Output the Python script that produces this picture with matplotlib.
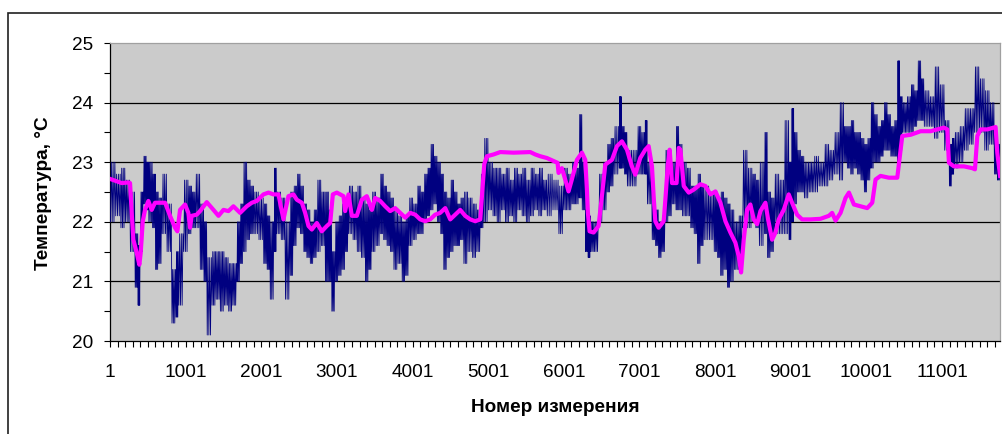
import numpy as np
import matplotlib
matplotlib.use('Agg')
import matplotlib.pyplot as plt
from matplotlib.patches import Rectangle

plt.rcParams['font.family'] = ['Liberation Sans', 'DejaVu Sans']

NAVY = '#000080'
MAGENTA = '#ff00ff'
PLOT_BG = '#cbcbcb'

N_LAST = 11767

# raw sensor: per stretch of measurements, the lowest and highest reading
raw_start = [
    0, 70, 140, 200, 265, 330, 370, 400, 440, 480, 510, 560, 600, 640, 685,
    750, 815, 870, 905, 970, 1035, 1080, 1125, 1190, 1240, 1280, 1345, 1400,
    1455, 1510, 1565, 1620, 1675, 1720, 1760, 1810, 1855, 1900, 1965, 2030,
    2075, 2115, 2170, 2200, 2260, 2315, 2380, 2425, 2470, 2515, 2560, 2600,
    2645, 2690, 2735, 2790, 2845, 2890, 2930, 2975, 3020, 3065, 3110, 3150,
    3210, 3265, 3320, 3375, 3420, 3460, 3515, 3570, 3615, 3660, 3705, 3750,
    3805, 3860, 3905, 3950, 4005, 4060, 4105, 4150, 4195, 4235, 4280, 4325,
    4370, 4410, 4455, 4500, 4545, 4590, 4630, 4675, 4730, 4790, 4845, 4900,
    4940, 5000, 5060, 5115, 5170, 5225, 5280, 5335, 5390, 5445, 5500, 5555,
    5610, 5665, 5720, 5775, 5850, 5930, 5995, 6050, 6105, 6150, 6200, 6240,
    6285, 6320, 6350, 6400, 6460, 6515, 6570, 6615, 6660, 6730, 6760, 6800,
    6835, 6900, 6970, 7020, 7070, 7100, 7165, 7210, 7250, 7295, 7340, 7385,
    7430, 7480, 7520, 7565, 7620, 7675, 7720, 7765, 7810, 7850, 7920, 7985,
    8030, 8070, 8115, 8160, 8200, 8250, 8305, 8360, 8425, 8490, 8535, 8580,
    8650, 8690, 8735, 8780, 8845, 8910, 8975, 9010, 9040, 9085, 9130, 9175,
    9240, 9300, 9370, 9440, 9505, 9570, 9640, 9700, 9745, 9790, 9835, 9880,
    9925, 9970, 10010, 10055, 10100, 10145, 10190, 10230, 10275, 10320,
    10365, 10410, 10440, 10475, 10530, 10585, 10630, 10675, 10720, 10760,
    10830, 10895, 10960, 11030, 11095, 11130, 11160, 11225, 11290, 11360,
    11425, 11490, 11560, 11625, 11690, 11730,
]
raw_lo = [
    22.0, 22.1, 21.9, 22.0, 21.5, 20.9, 20.6, 21.5, 22.3, 22.2, 22.0, 21.9,
    21.2, 21.3, 21.8, 21.5, 20.3, 20.4, 20.6, 21.5, 21.8, 21.9, 21.9, 21.2,
    21.0, 20.1, 20.6, 20.7, 20.5, 20.6, 20.5, 20.6, 21.0, 21.3, 21.5, 21.7,
    21.8, 21.8, 21.7, 21.3, 21.2, 20.7, 21.5, 21.8, 21.7, 20.7, 21.1, 21.6,
    21.9, 21.8, 21.5, 21.4, 21.3, 21.4, 21.5, 21.6, 21.0, 21.0, 20.5, 21.0,
    21.1, 21.2, 21.5, 21.8, 21.7, 21.5, 21.4, 21.0, 21.2, 21.5, 21.6, 21.8,
    21.7, 21.6, 21.5, 21.2, 21.3, 21.0, 21.1, 21.6, 21.7, 21.8, 21.8, 22.0,
    22.1, 22.2, 22.3, 22.0, 21.8, 21.2, 21.4, 21.5, 21.6, 21.6, 21.7, 21.3,
    21.5, 21.4, 21.5, 21.9, 22.0, 22.2, 22.1, 22.0, 22.2, 22.0, 22.1, 22.0,
    22.2, 22.1, 22.0, 22.1, 22.2, 22.1, 22.2, 22.1, 22.2, 21.8, 22.2, 22.2,
    22.3, 22.3, 22.4, 22.2, 21.5, 21.4, 21.5, 21.5, 22.0, 22.2, 22.5, 22.6,
    22.8, 22.9, 22.9, 22.8, 22.6, 22.6, 22.8, 22.8, 22.8, 22.3, 21.7, 21.6,
    21.4, 21.5, 22.0, 22.1, 22.3, 22.2, 22.2, 22.1, 22.1, 21.9, 21.8, 21.3,
    21.6, 21.7, 21.7, 21.5, 21.4, 21.1, 21.2, 20.9, 21.0, 21.2, 21.2, 21.9,
    21.9, 22.0, 21.9, 21.6, 21.8, 21.4, 21.5, 21.8, 21.8, 21.8, 21.7, 22.0,
    22.3, 22.5, 22.5, 22.4, 22.5, 22.5, 22.6, 22.6, 22.7, 22.8, 22.7, 23.0,
    22.9, 22.8, 22.9, 22.8, 22.7, 22.5, 22.7, 22.9, 23.0, 23.0, 23.1, 23.2,
    23.2, 23.1, 23.1, 23.0, 23.2, 23.5, 23.5, 23.5, 23.6, 23.7, 23.7, 23.6,
    23.6, 23.4, 23.5, 23.2, 22.6, 22.8, 22.9, 23.0, 23.2, 23.3, 23.5, 23.5,
    23.2, 23.3, 22.8, 22.7,
]
raw_hi = [
    23.0, 22.8, 22.9, 22.7, 22.5, 21.8, 21.6, 22.5, 23.1, 23.0, 23.0, 22.8,
    22.5, 22.4, 22.8, 22.3, 21.2, 21.5, 21.8, 22.7, 22.6, 22.5, 22.8, 22.3,
    22.0, 21.4, 21.5, 21.5, 21.5, 21.4, 21.3, 21.3, 22.0, 22.3, 23.0, 22.7,
    22.6, 22.5, 22.4, 22.3, 22.1, 22.0, 22.9, 22.5, 22.4, 22.0, 22.5, 22.6,
    22.8, 22.6, 22.3, 22.2, 22.0, 22.2, 22.7, 22.5, 22.5, 22.2, 21.5, 22.0,
    22.1, 22.3, 22.4, 22.6, 22.5, 22.6, 22.4, 22.3, 22.2, 22.5, 22.4, 22.8,
    22.6, 22.5, 22.4, 22.2, 22.1, 22.0, 22.1, 22.4, 22.3, 22.6, 22.5, 22.8,
    22.9, 23.3, 23.1, 23.0, 22.8, 22.5, 22.4, 22.7, 22.5, 22.3, 22.4, 22.5,
    22.4, 22.3, 22.2, 22.8, 23.4, 23.0, 22.9, 22.9, 22.8, 22.9, 22.7, 22.9,
    22.8, 22.9, 22.7, 22.9, 22.8, 22.9, 22.7, 22.8, 22.7, 22.6, 22.9, 22.8,
    23.0, 22.9, 23.8, 23.0, 22.2, 22.1, 22.0, 22.0, 22.8, 23.0, 23.3, 23.4,
    23.6, 24.1, 23.6, 23.5, 23.2, 23.2, 23.6, 23.5, 23.7, 23.0, 22.3, 22.2,
    22.0, 22.1, 23.2, 23.0, 23.0, 23.6, 23.3, 23.0, 22.9, 22.6, 22.6, 22.8,
    22.6, 22.6, 22.5, 22.5, 22.4, 22.5, 22.4, 22.3, 22.2, 22.0, 22.1, 23.2,
    22.9, 22.8, 22.7, 23.0, 23.5, 22.5, 22.4, 22.8, 22.7, 23.7, 23.0, 23.9,
    23.5, 23.2, 23.1, 23.0, 23.0, 23.1, 23.0, 23.3, 23.2, 23.5, 24.0, 23.6,
    23.6, 23.7, 23.5, 23.5, 23.4, 23.3, 23.4, 24.0, 23.8, 23.6, 23.7, 24.0,
    23.8, 23.6, 23.7, 24.7, 24.1, 24.0, 24.1, 24.3, 24.2, 24.7, 24.4, 24.2,
    24.1, 24.6, 24.3, 23.7, 23.3, 23.4, 23.5, 23.6, 23.9, 23.9, 24.6, 24.4,
    24.2, 24.0, 23.5, 23.3,
]

# smoothed (moving-average) temperature
avg_m = [
    0, 88, 155, 243, 265, 287, 309, 353, 388, 406, 432, 463, 507, 551, 595,
    662, 728, 794, 860, 891, 926, 992, 1036, 1058, 1080, 1147, 1191, 1279,
    1368, 1434, 1500, 1566, 1632, 1720, 1808, 1875, 1941, 2029, 2095, 2161,
    2227, 2293, 2359, 2425, 2470, 2536, 2580, 2624, 2668, 2734, 2800, 2867,
    2911, 2946, 2999, 3087, 3109, 3153, 3197, 3263, 3329, 3395, 3462, 3506,
    3572, 3638, 3704, 3770, 3836, 3903, 3969, 4035, 4101, 4167, 4233, 4299,
    4365, 4432, 4498, 4564, 4630, 4696, 4763, 4829, 4895, 4917, 4948, 4983,
    5071, 5159, 5335, 5556, 5622, 5688, 5776, 5864, 5917, 5930, 5974, 6018,
    6062, 6106, 6173, 6239, 6283, 6305, 6318, 6340, 6393, 6459, 6503, 6548,
    6636, 6702, 6768, 6834, 6900, 6944, 7010, 7077, 7121, 7165, 7187, 7209,
    7253, 7320, 7342, 7373, 7399, 7430, 7490, 7519, 7541, 7585, 7651, 7717,
    7806, 7872, 7938, 8004, 8070, 8136, 8202, 8268, 8312, 8343, 8378, 8422,
    8466, 8510, 8555, 8599, 8665, 8700, 8753, 8797, 8841, 8907, 8973, 9017,
    9083, 9150, 9260, 9392, 9503, 9547, 9592, 9658, 9724, 9769, 9835, 9923,
    10011, 10077, 10121, 10187, 10297, 10408, 10452, 10474, 10585, 10717,
    10849, 10937, 11025, 11069, 11091, 11157, 11290, 11400, 11435, 11466,
    11510, 11598, 11708, 11730, 11767,
]
avg_t = [
    22.72, 22.68, 22.65, 22.66, 22.65, 22.15, 21.70, 21.48, 21.28, 21.48,
    22.00, 22.20, 22.35, 22.20, 22.32, 22.32, 22.32, 22.10, 21.90, 21.84,
    22.20, 22.29, 22.15, 21.90, 22.10, 22.12, 22.18, 22.33, 22.20, 22.10,
    22.20, 22.18, 22.26, 22.15, 22.26, 22.32, 22.35, 22.46, 22.49, 22.46,
    22.46, 22.04, 22.43, 22.46, 22.37, 22.32, 22.15, 21.93, 21.87, 21.98,
    21.84, 21.93, 21.98, 22.46, 22.49, 22.43, 22.18, 22.46, 22.10, 22.10,
    22.37, 22.43, 22.20, 22.40, 22.35, 22.26, 22.18, 22.23, 22.15, 22.07,
    22.15, 22.12, 22.04, 22.01, 22.04, 22.12, 22.15, 22.23, 22.04, 22.12,
    22.20, 22.10, 22.04, 22.01, 22.04, 22.43, 22.97, 23.10, 23.13, 23.17,
    23.16, 23.17, 23.13, 23.10, 23.07, 23.02, 22.99, 22.82, 22.90, 22.71,
    22.51, 22.71, 23.04, 23.16, 23.04, 22.54, 22.15, 21.84, 21.82, 21.93,
    22.43, 22.96, 23.04, 23.27, 23.35, 23.21, 22.93, 22.79, 23.07, 23.21,
    23.27, 22.93, 22.43, 22.01, 21.90, 22.01, 22.37, 22.93, 23.21, 22.65,
    22.65, 23.24, 23.21, 22.60, 22.49, 22.54, 22.63, 22.60, 22.46, 22.51,
    22.32, 22.01, 21.82, 21.65, 21.42, 21.15, 21.70, 22.20, 22.29, 22.04,
    21.96, 22.18, 22.32, 22.04, 21.70, 21.82, 22.04, 22.20, 22.46, 22.32,
    22.12, 22.04, 22.04, 22.05, 22.10, 22.15, 22.02, 22.15, 22.40, 22.49,
    22.29, 22.26, 22.23, 22.32, 22.71, 22.77, 22.74, 22.74, 23.21, 23.44,
    23.46, 23.52, 23.52, 23.55, 23.58, 23.55, 22.99, 22.93, 22.93, 22.90,
    22.88, 23.44, 23.55, 23.55, 23.59, 23.16, 22.77,
]

y_ticks = [20, 21, 22, 23, 24, 25]
x_ticks = list(range(1, 11002, 1000))

STROKES = 3  # down/up strokes drawn across each stretch


def raw_trace():
    # each stretch is filled with a few down/up strokes between its extremes
    start = np.array(raw_start, dtype=float)
    end = np.append(start[1:], N_LAST)
    frac = (np.arange(2 * STROKES) + 0.5) / (2 * STROKES)
    xs = (start[:, None] + (end - start)[:, None] * frac[None, :]).ravel() + 1
    ys = np.tile(np.column_stack([raw_lo, raw_hi]), STROKES).ravel()
    return xs, ys


fig = plt.figure(figsize=(10.02, 4.34), dpi=100)
fig.patches.append(Rectangle((8 / 1002, -0.1), 1.2, (434 - 13) / 434 + 0.1,
                             transform=fig.transFigure, fill=False,
                             edgecolor='#202020', linewidth=1.2))

ax = fig.add_axes([110 / 1002, (434 - 341) / 434, 890 / 1002, 298 / 434])
ax.set_facecolor(PLOT_BG)

xs, ys = raw_trace()
ax.plot(xs, ys, color=NAVY, linewidth=0.6, zorder=3)
ax.plot(np.array(avg_m) + 1, avg_t, color=MAGENTA, linewidth=3.0,
        solid_joinstyle='round', zorder=4)

ax.set_xlim(1, N_LAST)
ax.set_ylim(20, 25)
ax.set_yticks(y_ticks)
ax.set_yticks(np.arange(20.5, 25, 1.0), minor=True)
ax.set_xticks(x_ticks)
ax.set_xticks(range(1, N_LAST, 100), minor=True)
ax.tick_params(axis='both', which='both', direction='out', color='black',
               length=4.3, width=0.8, labelsize=13.7)
ax.tick_params(axis='y', which='major', pad=8)
ax.tick_params(axis='x', which='major', pad=12)

for v in y_ticks[1:-1]:
    ax.axhline(v, color='black', linewidth=0.9, zorder=1)

ax.spines['left'].set_color('black')
ax.spines['bottom'].set_color('black')
ax.spines['top'].set_color('#a0a0a0')
ax.spines['right'].set_color('#a0a0a0')
for s in ax.spines.values():
    s.set_linewidth(0.9)

fig.text(555 / 1002, 1 - 407 / 434, 'Номер измерения', ha='center',
         va='center', fontsize=13.7, fontweight='bold')
fig.text(44 / 1002, 1 - 193 / 434, 'Температура, °C', ha='center',
         va='center', rotation=90, fontsize=13.7, fontweight='bold')

fig.savefig('out.png', dpi=100)
plt.close(fig)
